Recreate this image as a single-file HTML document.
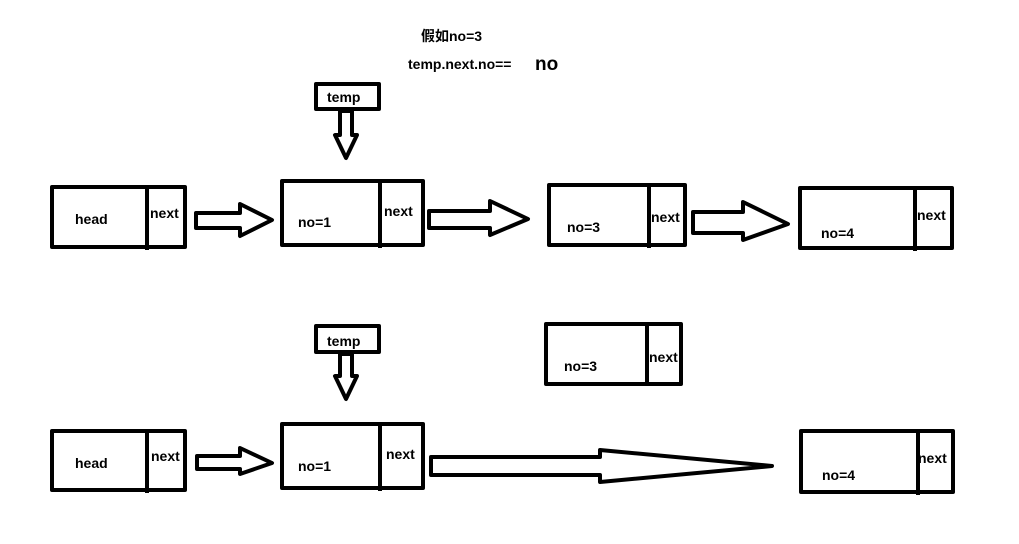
<!DOCTYPE html>
<html><head><meta charset="utf-8"><style>
html,body{margin:0;padding:0;background:#fff;}
svg{display:block;}
text{font-family:"Liberation Sans","Noto Sans CJK SC",sans-serif;font-weight:bold;fill:#000;}
</style></head><body>
<svg width="1019" height="544" viewBox="0 0 1019 544" xmlns="http://www.w3.org/2000/svg">
<g fill="none" stroke="#000" stroke-width="4" stroke-linejoin="round">
<!-- row 1 -->
<rect x="52" y="187" width="133" height="60"/><line x1="147" y1="187" x2="147" y2="250"/>
<rect x="282" y="181" width="141" height="64"/><line x1="380" y1="181" x2="380" y2="248"/>
<rect x="549" y="185" width="136" height="60"/><line x1="649" y1="185" x2="649" y2="248"/>
<rect x="800" y="188" width="152" height="60"/><line x1="915" y1="188" x2="915" y2="251"/>
<path d="M196 213 L240 213 L240 204 L272 220 L240 236 L240 228 L196 228 Z"/>
<path d="M429 211 L490 211 L490 201 L528 219 L490 235 L490 228 L429 228 Z"/>
<path d="M693 212 L743 212 L743 202 L788 224 L743 240 L743 233 L693 233 Z"/>
<rect x="316" y="84" width="63" height="25"/>
<path d="M340 111 L352 111 L352 135 L357 135 L346 158 L335 135 L340 135 Z"/>
<!-- row 2 -->
<rect x="316" y="326" width="63" height="26"/>
<path d="M340 354 L352 354 L352 376 L357 376 L346 399 L335 376 L340 376 Z"/>
<rect x="546" y="324" width="135" height="60"/><line x1="647" y1="324" x2="647" y2="386"/>
<rect x="52" y="431" width="133" height="59"/><line x1="147" y1="431" x2="147" y2="493"/>
<rect x="282" y="424" width="141" height="64"/><line x1="380" y1="424" x2="380" y2="491"/>
<rect x="801" y="431" width="152" height="61"/><line x1="918" y1="431" x2="918" y2="495"/>
<path d="M197 456 L240 456 L240 448 L272 463 L240 474 L240 469 L197 469 Z"/>
<path d="M431 457 L600 457 L600 450 L772 466 L600 482 L600 475 L431 475 Z"/>
</g>
<g font-size="14">
<text x="421" y="41">假如no=3</text>
<text x="408" y="69">temp.next.no==</text>
<text x="535" y="70" font-weight="normal" font-size="19">no</text>
<text x="327" y="102">temp</text>
<text x="327" y="346">temp</text>
<text x="75" y="224">head</text>
<text x="150" y="218">next</text>
<text x="298" y="227">no=1</text>
<text x="384" y="216">next</text>
<text x="567" y="232">no=3</text>
<text x="651" y="222">next</text>
<text x="821" y="238">no=4</text>
<text x="917" y="220">next</text>
<text x="564" y="371">no=3</text>
<text x="649" y="362">next</text>
<text x="75" y="468">head</text>
<text x="151" y="461">next</text>
<text x="298" y="471">no=1</text>
<text x="386" y="459">next</text>
<text x="822" y="480">no=4</text>
<text x="918" y="463">next</text>
</g>
</svg>
</body></html>
